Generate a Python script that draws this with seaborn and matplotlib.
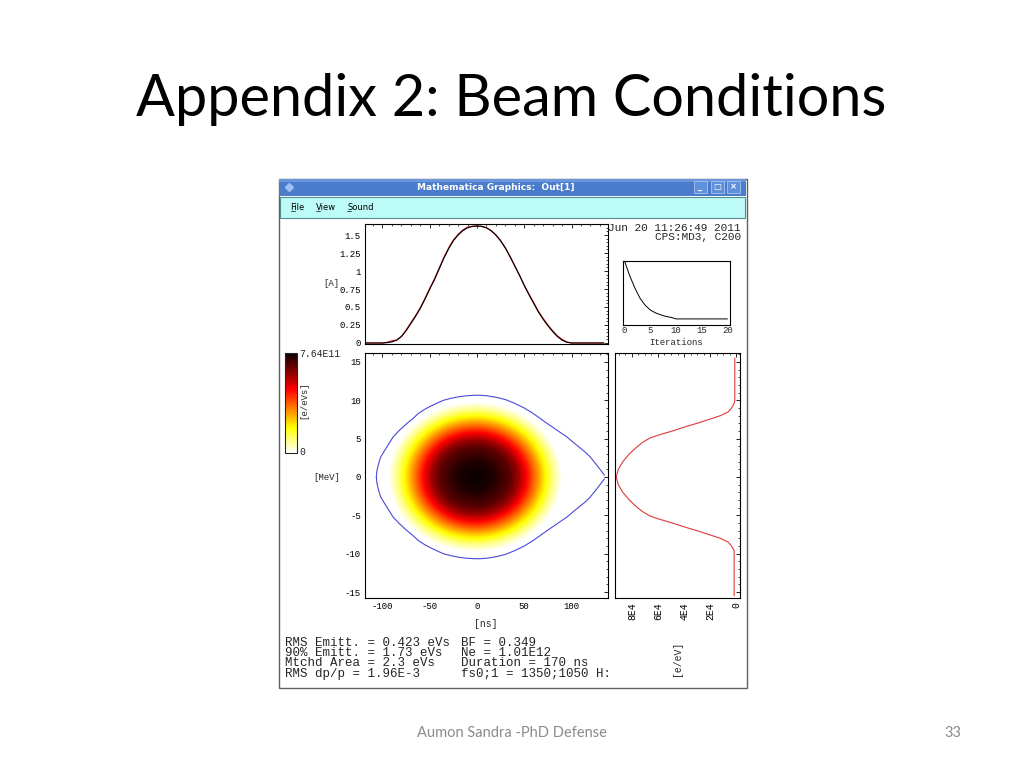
import numpy as np
import pandas as pd
import matplotlib
matplotlib.use("Agg")
import matplotlib.pyplot as plt
from matplotlib.patches import Rectangle
import seaborn as sns

# ---- values ----
# bunch current profile, top panel (ns, A)
t_ns = [-118, -100, -95, -90, -85, -80, -75, -71, -65, -60, -55, -50, -45, -40, -35, -30, -25, -20, -15, -10, -5,
        0, 5, 10, 15, 20, 25, 30, 35, 40, 45, 50, 55, 60, 65, 70, 75, 80, 85, 90, 95, 100, 134]
current_fit = [0, 0, 0.005, 0.015, 0.04, 0.09, 0.17, 0.25, 0.37, 0.48, 0.61, 0.75, 0.88, 1.03, 1.18, 1.31, 1.42, 1.5, 1.56, 1.6, 1.62,
               1.625, 1.62, 1.6, 1.56, 1.5, 1.42, 1.32, 1.2, 1.07, 0.94, 0.8, 0.67, 0.55, 0.43, 0.33, 0.24, 0.16, 0.09, 0.04, 0.01, 0, 0]
current_meas = [0, 0, 0.01, 0.03, 0.04, 0.09, 0.18, 0.26, 0.38, 0.49, 0.62, 0.76, 0.89, 1.04, 1.19, 1.32, 1.43, 1.51, 1.57, 1.61, 1.62,
                1.625, 1.62, 1.6, 1.56, 1.5, 1.42, 1.32, 1.2, 1.07, 0.94, 0.8, 0.68, 0.56, 0.44, 0.34, 0.25, 0.17, 0.1, 0.05, 0.015, 0, 0]

# separatrix, upper half (ns, MeV)
sep_t = [-106.5, -106, -105, -103.5, -101.9, -98.5, -95, -88.6, -82, -75, -68, -62, -55, -48, -42, -35.6, -28, -20, -12, -3.9, 3, 10,
         20, 30, 40, 50, 58, 66.7, 74, 80, 87, 94.9, 101, 108, 114, 119.6, 127, 134.7]
sep_e = [0, 0.7, 1.3, 2.0, 2.6, 3.3, 4.0, 5.25, 6.1, 6.9, 7.6, 8.3, 8.85, 9.3, 9.65, 10.0, 10.25, 10.45, 10.58, 10.65, 10.66, 10.6,
         10.4, 10.1, 9.6, 9.0, 8.4, 7.65, 7.0, 6.5, 5.9, 5.25, 4.6, 3.9, 3.3, 2.65, 1.5, 0.26]

# energy profile, right panel (MeV, e/eV)
prof_e = [15.5, 10.0, 9.6, 9.3, 9.0, 8.5, 8.0, 7.5, 7.0, 6.6, 6.0, 5.5, 5.1, 4.5, 3.8, 3.0, 2.0, 1.0, 0.0,
          -1.0, -2.0, -3.0, -3.8, -4.5, -5.1, -5.5, -6.0, -6.6, -7.0, -7.5, -8.0, -8.5, -9.0, -9.3, -9.6, -15.5]
prof_val = [1e3, 1e3, 1.5e3, 2.5e3, 3.5e3, 6e3, 1.2e4, 2.1e4, 3.0e4, 3.8e4, 4.9e4, 5.9e4, 6.6e4, 7.2e4, 7.7e4, 8.2e4, 8.7e4, 9.05e4, 9.2e4,
            9.05e4, 8.7e4, 8.2e4, 7.7e4, 7.2e4, 6.6e4, 5.9e4, 4.9e4, 3.8e4, 3.0e4, 2.1e4, 1.2e4, 6e3, 3.5e3, 2.5e3, 1.5e3, 1.5e3]

# phase-space density: fraction of peak vs normalised radius
dens_r = [0, 0.2, 0.4, 0.5, 0.6, 0.7, 0.8, 0.9, 1.0]
dens_frac = [1.0, 0.97, 0.88, 0.78, 0.62, 0.45, 0.28, 0.12, 0.0]
dens_peak = 7.64e11
bunch_t0, bunch_a, bunch_b = -2, 92, 9.8

# convergence inset
iters = list(range(21))
conv = [1.0, 0.77, 0.58, 0.42, 0.31, 0.235, 0.19, 0.16, 0.135, 0.12, 0.095,
        0.095, 0.095, 0.095, 0.095, 0.095, 0.095, 0.095, 0.095, 0.095, 0.095]

stats_left = ["RMS Emitt. = 0.423 eVs", "90% Emitt. = 1.73 eVs", "Mtchd Area = 2.3 eVs", "RMS dp/p = 1.96E-3"]
stats_right = ["BF = 0.349", "Ne = 1.01E12", "Duration = 170 ns", "fs0;1 = 1350;1050 H:"]

t_lim = (-118.5, 138.6)
e_lim = (-15.78, 16.17)

sns.set_style("white")
plt.rcParams['font.family'] = ['Liberation Mono', 'DejaVu Sans Mono']
plt.rcParams['axes.unicode_minus'] = False
mono = 'Liberation Mono'

W, H = 1024, 768
fig = plt.figure(figsize=(W / 100, H / 100), dpi=100)
fig.patch.set_facecolor('white')


def px_axes(x0, y0, x1, y1):
    return fig.add_axes([x0 / W, 1 - y1 / H, (x1 - x0) / W, (y1 - y0) / H])


def frame(ax, lsize=6.5):
    for s in ax.spines.values():
        s.set_linewidth(0.8)
        s.set_color('black')
        s.set_visible(True)
    ax.minorticks_on()
    ax.tick_params(which='both', direction='in', top=True, right=True,
                   labelsize=lsize, pad=3, colors='black')
    ax.tick_params(which='major', length=3, width=0.6)
    ax.tick_params(which='minor', length=1.5, width=0.5)
    ax.set_xlabel('')
    ax.set_ylabel('')


# background layer in pixel coords (slide + window chrome)
bg = fig.add_axes([0, 0, 1, 1])
bg.set_xlim(0, W)
bg.set_ylim(H, 0)
bg.axis('off')

bg.text(511, 100, "Appendix 2: Beam Conditions", ha='center', va='center',
        fontsize=41.5, family=['Lato', 'DejaVu Sans'], color='black')
bg.text(512, 733, "Aumon Sandra -PhD Defense", ha='center', va='center',
        fontsize=10.5, family=['Lato', 'DejaVu Sans'], color='#8b8b8b')
bg.text(953, 733, "33", ha='center', va='center',
        fontsize=10.5, family=['Lato', 'DejaVu Sans'], color='#8b8b8b')

bg.add_patch(Rectangle((278.5, 178.5), 468, 509, fc='white', ec='#606060', lw=1))
bg.add_patch(Rectangle((279, 179), 467, 17, fc='#4a7ccb', ec='none'))
bg.add_patch(Rectangle((279, 179), 467, 3, fc='#6a96dc', ec='none'))
bg.add_patch(Rectangle((280, 196.5), 465, 21, fc='#bcfbf7', ec='#4f8f8c', lw=0.8))
bg.plot([289], [187], marker='D', ms=4, color='#9cc0f4')
bg.text(496, 187.5, "Mathematica Graphics:  Out[1]", ha='center', va='center',
        fontsize=6.5, fontweight='bold', family='DejaVu Sans', color='white')
for bx, glyph in zip([694, 711, 727], ['_', '\u25a1', '\u00d7']):
    bg.add_patch(Rectangle((bx, 181), 13, 12, fc='#5f90dc', ec='#a9c4ee', lw=0.6))
    bg.text(bx + 6.5, 187, glyph, ha='center', va='center', fontsize=6,
            fontweight='bold', family='DejaVu Sans', color='white')
for mx, word in zip([290.5, 316, 347], ["File", "View", "Sound"]):
    bg.text(mx, 207, word, ha='left', va='center', fontsize=6,
            family='DejaVu Sans', color='black')
    bg.plot([mx, mx + 4], [211, 211], color='black', lw=0.5)

# ---- top panel: current ----
ax_top = px_axes(365, 224, 608, 344)
sns.lineplot(x=t_ns, y=current_meas, ax=ax_top, color='#d82828', lw=0.9)
sns.lineplot(x=t_ns, y=current_fit, ax=ax_top, color='black', lw=0.8)
ax_top.set_xlim(t_lim)
ax_top.set_ylim(-0.014, 1.653)
ax_top.set_yticks([0, 0.25, 0.5, 0.75, 1, 1.25, 1.5])
ax_top.set_yticklabels(["0", "0.25", "0.5", "0.75", "1", "1.25", "1.5"])
ax_top.set_xticks([-100, -50, 0, 50, 100])
frame(ax_top)
ax_top.tick_params(labelbottom=False)

# ---- main panel: phase space ----
ax_ps = px_axes(365, 353, 608, 598)
tt = np.linspace(t_lim[0], t_lim[1], 500)
ee = np.linspace(e_lim[0], e_lim[1], 500)
T, E = np.meshgrid(tt, ee)
R = np.hypot((T - bunch_t0) / bunch_a, E / bunch_b)
Z = np.interp(R, dens_r, dens_frac, right=0.0) * dens_peak
im = ax_ps.imshow(Z, origin='lower', extent=(t_lim[0], t_lim[1], e_lim[0], e_lim[1]),
                  cmap='hot_r', vmin=0, vmax=dens_peak, aspect='auto', interpolation='bilinear')
sep = pd.DataFrame({'t': sep_t, 'e': sep_e})
sns.lineplot(data=sep, x='t', y='e', ax=ax_ps, sort=False, estimator=None, color='#4a4ad8', lw=0.8)
sns.lineplot(x=sep['t'], y=-sep['e'], ax=ax_ps, sort=False, estimator=None, color='#4a4ad8', lw=0.8)
ax_ps.set_xlim(t_lim)
ax_ps.set_ylim(e_lim)
ax_ps.set_xticks([-100, -50, 0, 50, 100])
ax_ps.set_yticks([-15, -10, -5, 0, 5, 10, 15])
frame(ax_ps)

# ---- right panel: energy profile ----
ax_r = px_axes(615, 353, 740, 598)
prof = pd.DataFrame({'e': prof_e, 'v': prof_val})
sns.lineplot(data=prof, x='v', y='e', ax=ax_r, sort=False, estimator=None, color='#e03a3a', lw=0.8)
ax_r.set_xlim(9.3e4, -0.3e4)
ax_r.set_ylim(e_lim)
ax_r.set_xticks([0, 2e4, 4e4, 6e4, 8e4])
ax_r.set_xticklabels(["0", "2E4", "4E4", "6E4", "8E4"], rotation=90)
ax_r.set_yticks([-15, -10, -5, 0, 5, 10, 15])
frame(ax_r, lsize=7)
ax_r.tick_params(labelleft=False)

# ---- colour bar ----
cax = px_axes(285, 353, 297, 453)
cb = fig.colorbar(im, cax=cax)
cb.set_ticks([])
cb.outline.set_linewidth(0.8)

# ---- convergence inset ----
ax_in = px_axes(623, 261, 730, 325)
sns.lineplot(x=iters, y=conv, ax=ax_in, color='black', lw=0.7)
ax_in.set_xlim(-0.3, 20.5)
ax_in.set_ylim(0, 1.0)
ax_in.set_xticks([0, 5, 10, 15, 20])
ax_in.set_yticks([])
for s in ax_in.spines.values():
    s.set_linewidth(0.8)
    s.set_color('black')
ax_in.tick_params(axis='x', direction='in', length=2, width=0.5, labelsize=6.5, pad=1)
ax_in.set_xlabel('')
ax_in.set_ylabel('')

# ---- labels in the window ----
bg.text(741, 228, "Jun 20 11:26:49 2011", ha='right', va='center', fontsize=8, family=mono)
bg.text(741, 236.5, "CPS:MD3, C200", ha='right', va='center', fontsize=8, family=mono)
bg.text(676.5, 342.5, "Iterations", ha='center', va='center', fontsize=6.5, family=mono)
bg.text(331, 284, "[A]", ha='center', va='center', fontsize=6.5, family=mono)
bg.text(327, 477, "[MeV]", ha='center', va='center', fontsize=6.5, family=mono)
bg.text(486, 624, "[ns]", ha='center', va='center', fontsize=7, family=mono)
bg.text(299, 354, "7.64E11", ha='left', va='center', fontsize=7, family=mono)
bg.text(299, 452, "0", ha='left', va='center', fontsize=7, family=mono)
bg.text(304, 400, "[e/eVs]", ha='center', va='center', rotation=90, fontsize=6.5, family=mono)
bg.text(677, 658, "[e/eV]", ha='center', va='center', rotation=90, fontsize=7, family=mono)
for i, (a, b) in enumerate(zip(stats_left, stats_right)):
    y = 643 + i * 10.2
    bg.text(285, y, a, ha='left', va='center', fontsize=9, family=mono)
    bg.text(461, y, b, ha='left', va='center', fontsize=9, family=mono)

fig.savefig('out.png', dpi=100, facecolor='white')
